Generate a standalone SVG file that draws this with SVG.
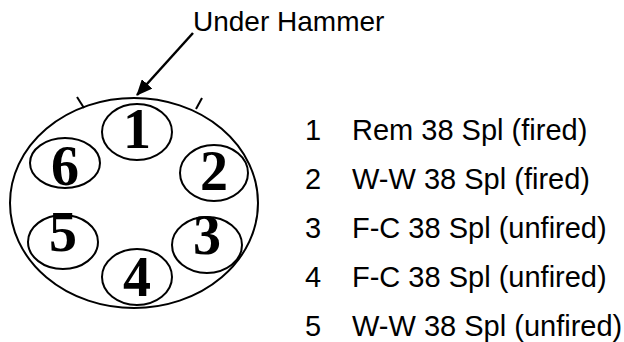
<svg xmlns="http://www.w3.org/2000/svg" width="624" height="342" viewBox="0 0 624 342">
<defs>
<style>
.ring{fill:none;stroke:#000;stroke-width:2}
.dig{font-family:"Liberation Serif","Times New Roman",serif;font-weight:bold;font-size:56px;text-anchor:middle;fill:#000}
.lbl{font-family:"Liberation Sans",Arial,sans-serif;font-size:28px;fill:#000}
.leg{font-family:"Liberation Sans",Arial,sans-serif;font-size:29px;fill:#000}
</style>
<marker id="ah" markerWidth="16" markerHeight="14" refX="15" refY="7" orient="auto" markerUnits="userSpaceOnUse" viewBox="0 0 16 14">
<path d="M0,0 L16,7 L0,14 z" fill="#000"/>
</marker>
</defs>
<rect width="624" height="342" fill="#fff"/>
<g id="cylinder">
<ellipse class="ring" cx="134" cy="203" rx="124" ry="105"/>
<line x1="77" y1="97" x2="84" y2="108" stroke="#000" stroke-width="2"/>
<line x1="202" y1="98" x2="196" y2="109" stroke="#000" stroke-width="2"/>
</g>
<g id="c1"><ellipse class="ring" cx="137" cy="132" rx="35" ry="28"/><text class="dig" x="137" y="148">1</text></g>
<g id="c2"><ellipse class="ring" cx="214" cy="173" rx="34" ry="28"/><text class="dig" x="214" y="190">2</text></g>
<g id="c3"><ellipse class="ring" cx="207" cy="245" rx="35" ry="28"/><text class="dig" x="207" y="254">3</text></g>
<g id="c4"><ellipse class="ring" cx="137" cy="277" rx="35" ry="28"/><text class="dig" x="137" y="296">4</text></g>
<g id="c5"><ellipse class="ring" cx="63" cy="242" rx="35" ry="27"/><text class="dig" x="63" y="251">5</text></g>
<g id="c6"><ellipse class="ring" cx="65" cy="163" rx="35" ry="25"/><text class="dig" x="65" y="185">6</text></g>
<g id="label"><text class="lbl" x="193" y="31">Under Hammer</text></g>
<g id="connectors">
<line x1="193" y1="33" x2="137" y2="95" stroke="#000" stroke-width="2.5" marker-end="url(#ah)"/>
</g>
<g id="legend">
<text class="leg" x="305" y="140">1</text><text class="leg" x="352" y="140">Rem 38 Spl (fired)</text>
<text class="leg" x="305" y="189">2</text><text class="leg" x="352" y="189">W-W 38 Spl (fired)</text>
<text class="leg" x="305" y="238">3</text><text class="leg" x="352" y="238">F-C 38 Spl (unfired)</text>
<text class="leg" x="305" y="287">4</text><text class="leg" x="352" y="287">F-C 38 Spl (unfired)</text>
<text class="leg" x="305" y="336">5</text><text class="leg" x="352" y="336">W-W 38 Spl (unfired)</text>
</g>
</svg>
